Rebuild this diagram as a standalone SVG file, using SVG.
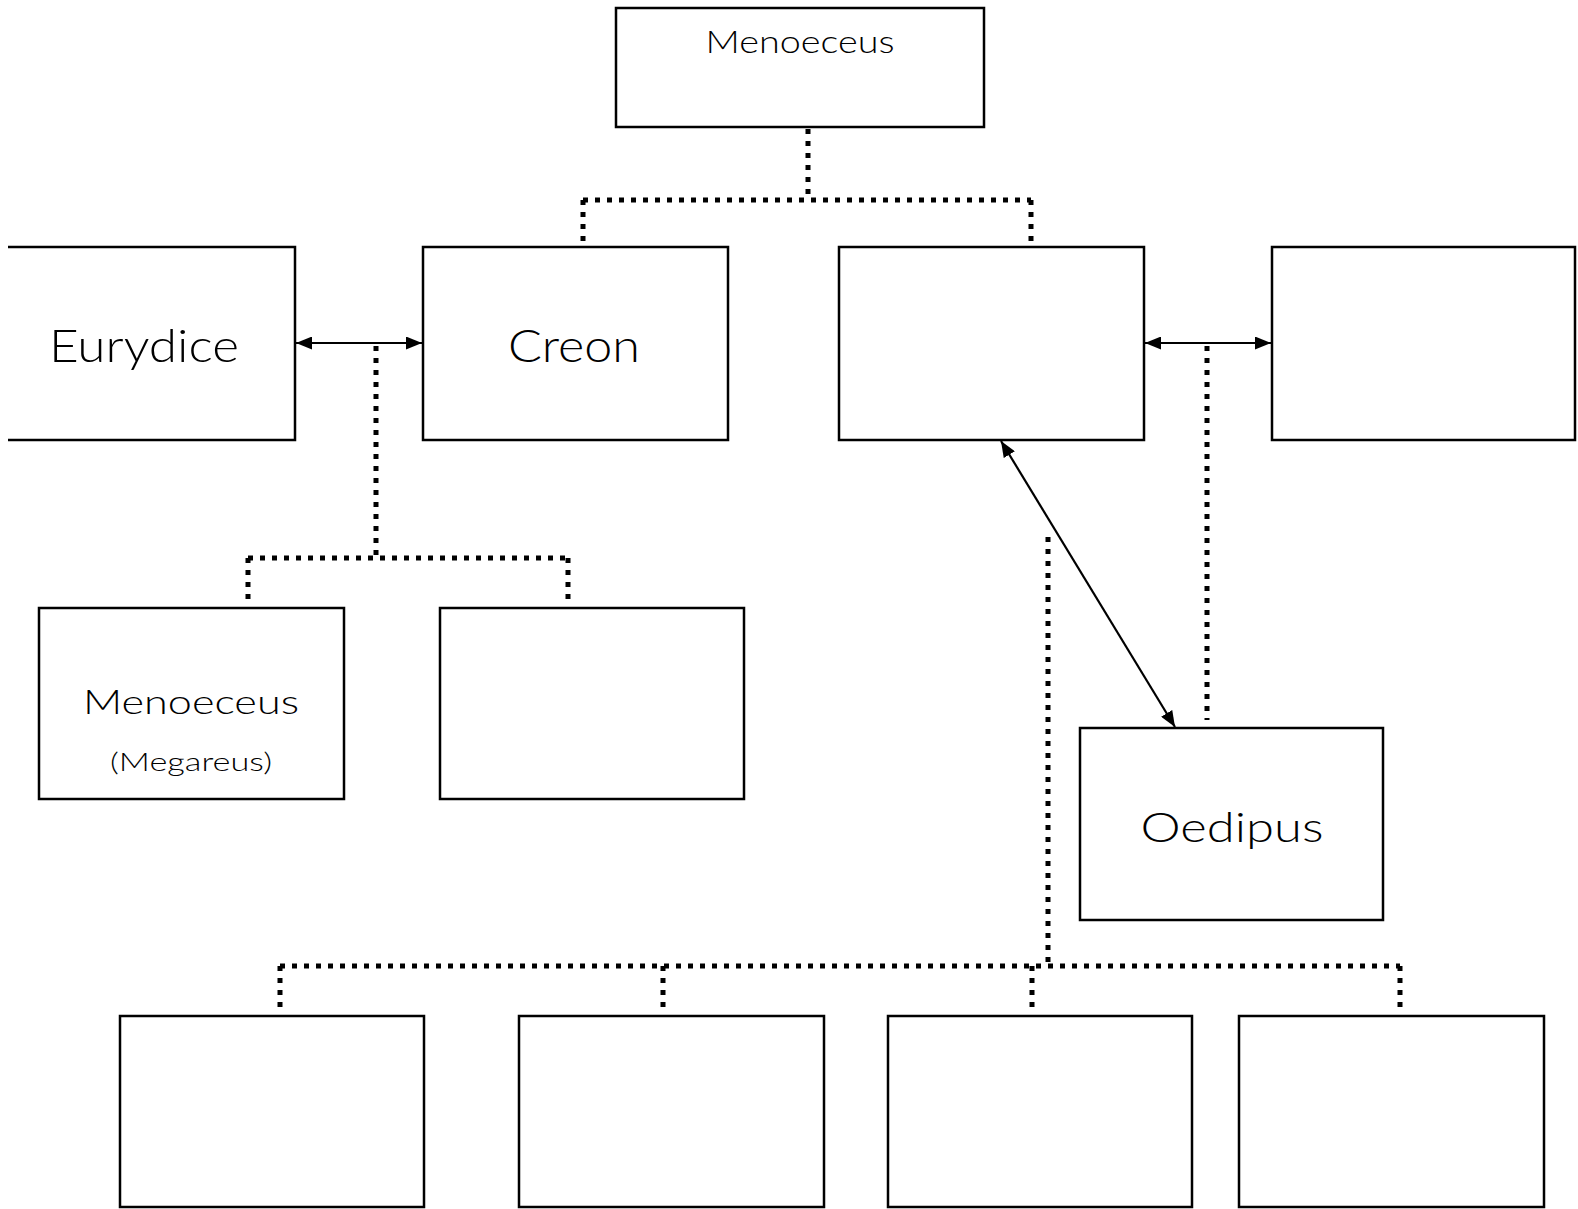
<svg xmlns="http://www.w3.org/2000/svg" width="1578" height="1209" viewBox="0 0 1578 1209">
<style>
.box{fill:#fff;stroke:#000;stroke-width:2.5}
.lbl{font-family:Lato,"Open Sans","Liberation Sans",sans-serif;font-weight:300;fill:#000;text-anchor:middle}
.dot{fill:none;stroke:#000;stroke-width:5;stroke-dasharray:5 7}
.arr{fill:none;stroke:#000;stroke-width:2.2;marker-start:url(#ah);marker-end:url(#ah)}
</style>
<defs>
<marker id="ah" viewBox="0 0 16 13" refX="16" refY="6.5" markerWidth="16" markerHeight="13" markerUnits="userSpaceOnUse" orient="auto-start-reverse">
<path d="M0,0 L16,6.5 L0,13 Z" fill="#000"/>
</marker>
</defs>
<rect width="1578" height="1209" fill="#fff"/>
<g id="connectors">
<path class="dot" d="M808,129 V200"/>
<path class="dot" d="M583,200 H1031"/>
<path class="dot" d="M583,200 V241"/>
<path class="dot" d="M1031,200 V241"/>
<path class="dot" d="M376,346 V558"/>
<path class="dot" d="M248,558 H568"/>
<path class="dot" d="M248,558 V601"/>
<path class="dot" d="M568,558 V601"/>
<path class="dot" d="M1207,346 V720"/>
<path class="dot" d="M1048,537 V966"/>
<path class="dot" d="M280,966 H1400"/>
<path class="dot" d="M280,966 V1008"/>
<path class="dot" d="M663,966 V1008"/>
<path class="dot" d="M1032,966 V1008"/>
<path class="dot" d="M1400,966 V1008"/>
<line class="arr" x1="296" y1="343" x2="422" y2="343"/>
<line class="arr" x1="1145" y1="343" x2="1271" y2="343"/>
<line class="arr" x1="1001" y1="441" x2="1175" y2="727"/>
</g>
<g id="menoeceus-top"><rect class="box" x="616" y="8" width="368" height="119"/><text class="lbl" x="800" y="53" font-size="32" textLength="189" lengthAdjust="spacingAndGlyphs">Menoeceus</text></g>
<g id="eurydice"><path class="box" d="M8,247 H295 V440 H8"/><text class="lbl" x="144" y="362" font-size="45" textLength="190" lengthAdjust="spacingAndGlyphs">Eurydice</text></g>
<g id="creon"><rect class="box" x="423" y="247" width="305" height="193"/><text class="lbl" x="574" y="362" font-size="45" textLength="132" lengthAdjust="spacingAndGlyphs">Creon</text></g>
<g id="blank-sibling"><rect class="box" x="839" y="247" width="305" height="193"/></g>
<g id="blank-spouse"><rect class="box" x="1272" y="247" width="303" height="193"/></g>
<g id="menoeceus-son"><rect class="box" x="39" y="608" width="305" height="191"/><text class="lbl" x="191" y="714" font-size="33" textLength="216" lengthAdjust="spacingAndGlyphs">Menoeceus</text><text class="lbl" x="191" y="771" font-size="26" textLength="162" lengthAdjust="spacingAndGlyphs">(Megareus)</text></g>
<g id="blank-son"><rect class="box" x="440" y="608" width="304" height="191"/></g>
<g id="oedipus"><rect class="box" x="1080" y="728" width="303" height="192"/><text class="lbl" x="1232" y="842" font-size="42" textLength="183" lengthAdjust="spacingAndGlyphs">Oedipus</text></g>
<g id="child1"><rect class="box" x="120" y="1016" width="304" height="191"/></g>
<g id="child2"><rect class="box" x="519" y="1016" width="305" height="191"/></g>
<g id="child3"><rect class="box" x="888" y="1016" width="304" height="191"/></g>
<g id="child4"><rect class="box" x="1239" y="1016" width="305" height="191"/></g>
</svg>
